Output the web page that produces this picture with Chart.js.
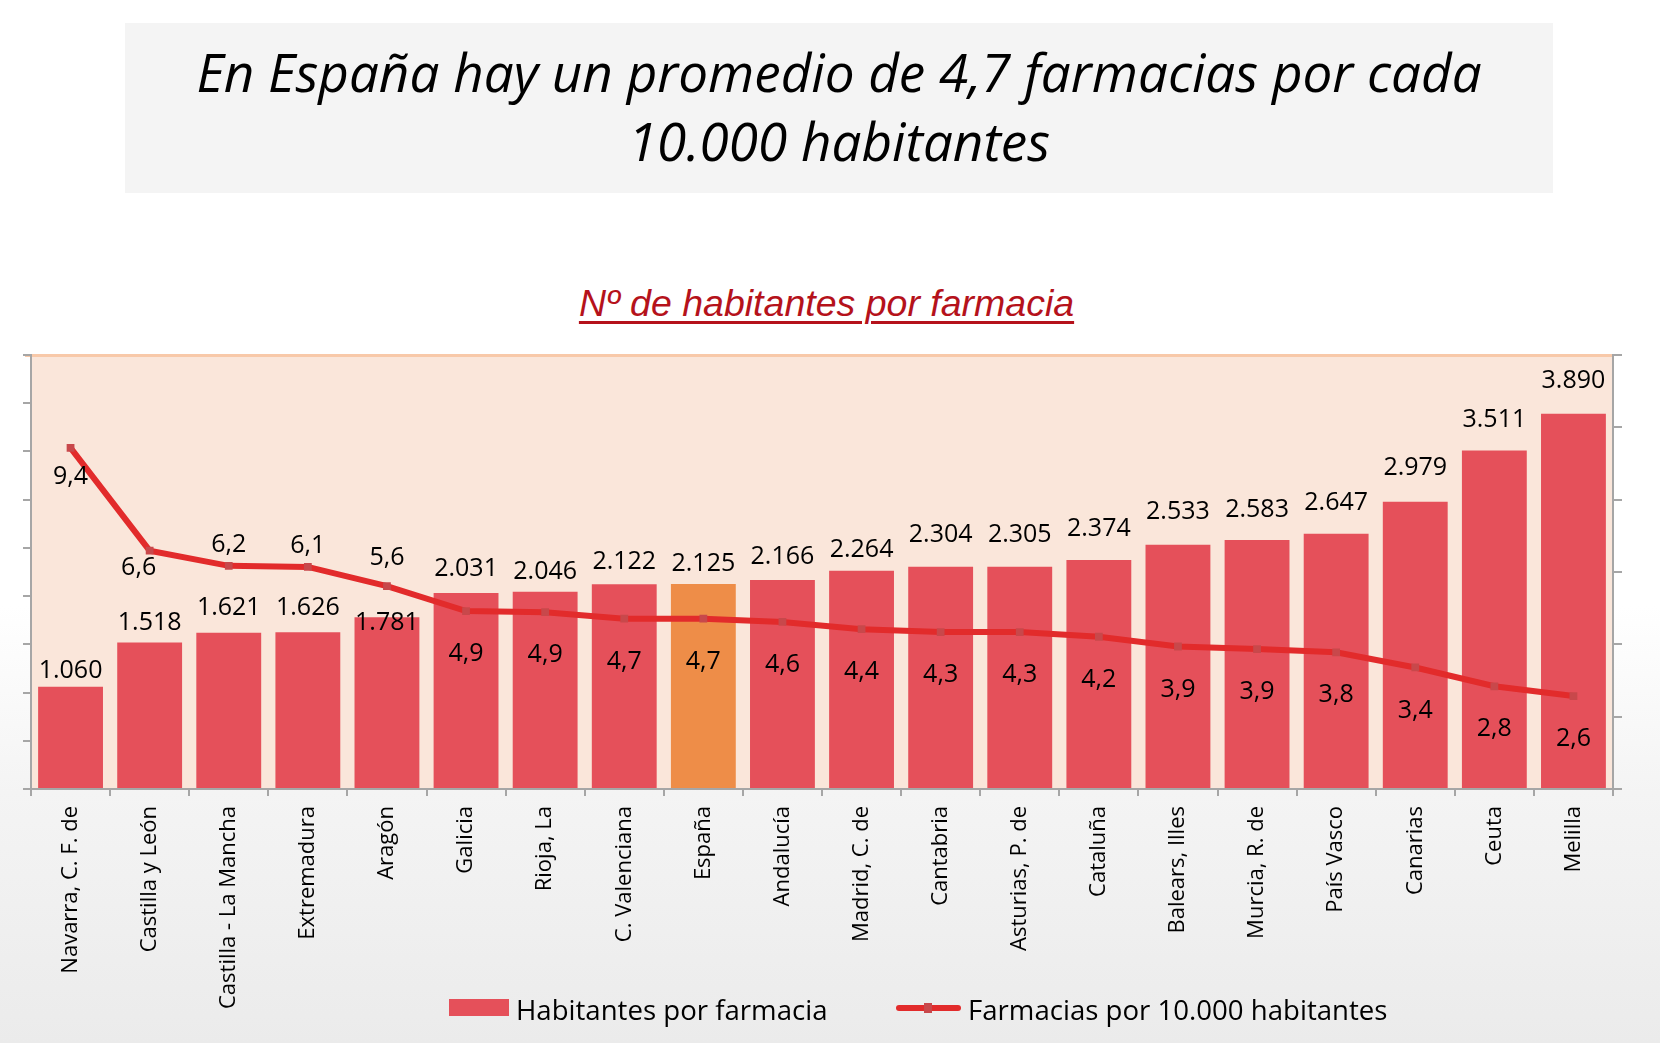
<!DOCTYPE html>
<html lang="es">
<head>
<meta charset="utf-8">
<title>Nº de habitantes por farmacia</title>
<script src="https://cdn.jsdelivr.net/npm/chart.js@4.4.1/dist/chart.umd.min.js"></script>
<style>
  html, body { margin: 0; padding: 0; }
  body {
    width: 1660px; height: 1043px; position: relative; overflow: hidden;
    background: linear-gradient(180deg, #ffffff 0%, #ffffff 58%, #f4f4f4 76%, #ebebeb 100%);
    font-family: "Open Sans", sans-serif;
  }
  #titlebox {
    position: absolute; left: 125px; top: 23px; width: 1428px; height: 170px;
    background: #f4f4f4; box-sizing: border-box; padding-top: 14px;
    text-align: center; font-family: "Open Sans", sans-serif; font-style: italic;
    font-size: 53px; line-height: 69px; color: #000;
  }
  #subtitle {
    position: absolute; left: 0; top: 283px; width: 1653px; text-align: center;
    font-family: "Liberation Sans", Arial, sans-serif; font-style: italic;
    font-size: 37.5px; line-height: 40px; color: #b5121b;
    text-decoration: underline; text-decoration-thickness: 3px; text-underline-offset: 5px;
  }
  #chart { position: absolute; left: 0; top: 0; }
</style>
</head>
<body>
<div id="titlebox">En España hay un promedio de 4,7 farmacias por cada<br>10.000 habitantes</div>
<div id="subtitle">Nº de habitantes por farmacia</div>
<canvas id="chart" width="1660" height="1043"></canvas>
<script>
// ---- Data ----
const categories = [
  "Navarra, C. F. de", "Castilla y León", "Castilla - La Mancha", "Extremadura", "Aragón",
  "Galicia", "Rioja, La", "C. Valenciana", "España", "Andalucía",
  "Madrid, C. de", "Cantabria", "Asturias, P. de", "Cataluña", "Balears, Illes",
  "Murcia, R. de", "País Vasco", "Canarias", "Ceuta", "Melilla"
];
const habitantesPorFarmacia = [
  1060, 1518, 1621, 1626, 1781,
  2031, 2046, 2122, 2125, 2166,
  2264, 2304, 2305, 2374, 2533,
  2583, 2647, 2979, 3511, 3890
];
// read from point positions; labels show one decimal
const farmaciasPor10000 = [
  9.43, 6.59, 6.17, 6.14, 5.61,
  4.92, 4.89, 4.71, 4.71, 4.62,
  4.42, 4.34, 4.34, 4.21, 3.94,
  3.87, 3.78, 3.36, 2.84, 2.57
];
const seriesNames = ["Habitantes por farmacia", "Farmacias por 10.000 habitantes"];
const highlightCategory = "España";

// ---- Styles ----
const BAR_RED = "#e5505a";
const BAR_ORANGE = "#ee8d48";
const LINE_RED = "#e22b2b";
const MARKER = "#c8484b";
const AXIS_GRAY = "#a6a6a6";
const PLOT_BG = "#fae6da";
const PLOT_TOP = "#f8c9a9";
// label placement (pixels relative to mark), style only
const barLabelGap = [16, 20, 25, 24, -6, 24, 20, 22, 20, 23, 21, 32, 32, 31, 33, 30, 31, 34, 31, 33];
const lineLabelDy = [29, 17, -21, -21, -28, 43, 43, 43, 43, 43, 43, 43, 43, 43, 43, 43, 43, 43, 43, 43];
const lineLabelDx = [0, -11, 0, 0, 0, 0, 0, 0, 0, 0, 0, 0, 0, 0, 0, 0, 0, 0, 0, 0];

const fmtThousands = v => String(v).replace(/\B(?=(\d{3})+(?!\d))/g, ".");
const fmtDecimal = v => v.toFixed(1).replace(".", ",");

const plotBackground = {
  id: "plotBackground",
  beforeDraw(chart) {
    const { ctx, chartArea: a } = chart;
    ctx.save();
    ctx.fillStyle = PLOT_BG;
    ctx.fillRect(a.left, a.top, a.right - a.left, a.bottom - a.top);
    ctx.strokeStyle = PLOT_TOP;
    ctx.lineWidth = 3;
    ctx.beginPath();
    ctx.moveTo(a.left - 6, a.top + 0.5);
    ctx.lineTo(a.right, a.top + 0.5);
    ctx.stroke();
    ctx.restore();
  }
};

const valueLabels = {
  id: "valueLabels",
  afterDatasetsDraw(chart) {
    const { ctx } = chart;
    ctx.save();
    ctx.font = "25px 'Open Sans'";
    ctx.fillStyle = "#000";
    ctx.textAlign = "center";
    ctx.textBaseline = "middle";
    const barMeta = chart.getDatasetMeta(0);
    barMeta.data.forEach((el, i) => {
      ctx.fillText(fmtThousands(habitantesPorFarmacia[i]), el.x, el.y - barLabelGap[i]);
    });
    const lineMeta = chart.getDatasetMeta(1);
    lineMeta.data.forEach((el, i) => {
      ctx.fillText(fmtDecimal(farmaciasPor10000[i]), el.x + lineLabelDx[i], el.y + lineLabelDy[i]);
    });
    ctx.restore();
  }
};

const customLegend = {
  id: "customLegend",
  afterDraw(chart) {
    const { ctx } = chart;
    ctx.save();
    ctx.font = "27.6px 'Open Sans'";
    ctx.textBaseline = "alphabetic";
    ctx.textAlign = "left";
    // bar item
    ctx.fillStyle = BAR_RED;
    ctx.fillRect(449, 999, 60, 17);
    ctx.fillStyle = "#000";
    ctx.fillText(seriesNames[0], 516, 1020);
    // line item
    ctx.strokeStyle = LINE_RED;
    ctx.lineWidth = 6;
    ctx.lineCap = "round";
    ctx.beginPath();
    ctx.moveTo(899, 1008);
    ctx.lineTo(958, 1008);
    ctx.stroke();
    ctx.fillStyle = MARKER;
    ctx.fillRect(924, 1003, 8, 10);
    ctx.fillStyle = "#000";
    ctx.fillText(seriesNames[1], 968, 1020);
    ctx.restore();
  }
};

const barColors = categories.map(c => c === highlightCategory ? BAR_ORANGE : BAR_RED);

new Chart(document.getElementById("chart"), {
  data: {
    labels: categories,
    datasets: [
      {
        type: "bar",
        label: seriesNames[0],
        data: habitantesPorFarmacia,
        backgroundColor: barColors,
        borderWidth: 0,
        barPercentage: 0.82,
        categoryPercentage: 1.0,
        yAxisID: "y",
        order: 2
      },
      {
        type: "line",
        label: seriesNames[1],
        data: farmaciasPor10000,
        borderColor: LINE_RED,
        borderWidth: 6,
        tension: 0,
        pointStyle: "rect",
        pointRadius: 5.5,
        pointBackgroundColor: MARKER,
        pointBorderWidth: 0,
        yAxisID: "y2",
        order: 1
      }
    ]
  },
  options: {
    responsive: false,
    animation: false,
    devicePixelRatio: 1,
    layout: { padding: { top: 355, left: 23, right: 38, bottom: 0 } },
    plugins: {
      legend: { display: false },
      title: { display: false },
      tooltip: { enabled: false }
    },
    scales: {
      x: {
        offset: true,
        grid: { drawOnChartArea: false, drawTicks: true, tickLength: 7, color: AXIS_GRAY, lineWidth: 2, offset: true },
        border: { display: true, color: AXIS_GRAY, width: 2 },
        ticks: {
          autoSkip: false, minRotation: 90, maxRotation: 90, padding: 10,
          color: "#000", font: { family: "'Open Sans'", size: 22 }
        },
        afterFit(scale) { scale.height = 254; }
      },
      y: {
        position: "left",
        min: 0, max: 4500,
        ticks: { display: false, stepSize: 500 },
        grid: { drawOnChartArea: false, drawTicks: true, tickLength: 8, color: AXIS_GRAY, lineWidth: 2 },
        border: { display: true, color: AXIS_GRAY, width: 2 }
      },
      y2: {
        position: "right",
        min: 0, max: 12,
        ticks: { display: false, stepSize: 2 },
        grid: { drawOnChartArea: false, drawTicks: true, tickLength: 9, color: AXIS_GRAY, lineWidth: 2 },
        border: { display: true, color: AXIS_GRAY, width: 2 }
      }
    }
  },
  plugins: [plotBackground, valueLabels, customLegend]
});
</script>
</body>
</html>
